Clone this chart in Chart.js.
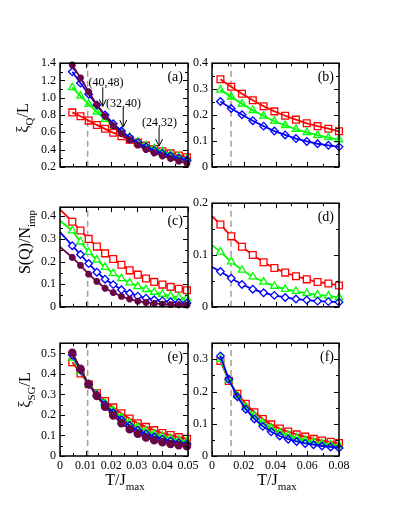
<!DOCTYPE html>
<html lang="en">
<head>
<meta charset="utf-8" />
<script src="https://cdn.jsdelivr.net/npm/chart.js@4.4.0/dist/chart.umd.min.js"></script>
<title>xi_Q, S(Q) and xi_SG versus T</title>
<style>
  body { margin: 0; background: #fff; }
  #fig { position: relative; width: 399px; height: 516px; font-family: "Liberation Serif", serif; color: #000; }
  .box { position: absolute; }
  .lab { position: absolute; font-size: 16px; white-space: nowrap; line-height: 1; }
  .lab sub { font-size: 11px; }
  .rot { transform: translate(-50%, -50%) rotate(-90deg); }
  .hor { transform: translate(-50%, -50%); }
</style>
</head>
<body>
<div id="fig">
  <div class="box" id="boxA"><canvas id="pa"></canvas></div>
  <div class="box" id="boxB"><canvas id="pb"></canvas></div>
  <div class="box" id="boxC"><canvas id="pc"></canvas></div>
  <div class="box" id="boxD"><canvas id="pd"></canvas></div>
  <div class="box" id="boxE"><canvas id="pe"></canvas></div>
  <div class="box" id="boxF"><canvas id="pf"></canvas></div>
  <div class="lab rot" style="left:25px; top:118px;">&xi;<sub>Q</sub>/L</div>
  <div class="lab rot" style="left:27px; top:242px;">S(Q)/N<sub>imp</sub></div>
  <div class="lab rot" style="left:27px; top:390px;">&xi;<sub>SG</sub>/L</div>
  <div class="lab hor" style="left:125px; top:482px;">T/J<sub>max</sub></div>
  <div class="lab hor" style="left:277px; top:482px;">T/J<sub>max</sub></div>
</div>
<script>
// temperatures (T/Jmax)
var tLeft = [0.0048, 0.0080, 0.0112, 0.0144, 0.0176, 0.0208, 0.0240, 0.0272, 0.0304, 0.0336, 0.0368, 0.0400, 0.0432, 0.0464, 0.0496];
var tLeftC = [0, 0.0048, 0.0080, 0.0112, 0.0144, 0.0176, 0.0208, 0.0240, 0.0272, 0.0304, 0.0336, 0.0368, 0.0400, 0.0432, 0.0464, 0.0496];
var tRight = [0.0053, 0.0121, 0.0189, 0.0257, 0.0325, 0.0393, 0.0461, 0.0529, 0.0597, 0.0665, 0.0733, 0.0800];
var tRightD = [0, 0.0053, 0.0121, 0.0189, 0.0257, 0.0325, 0.0393, 0.0461, 0.0529, 0.0597, 0.0665, 0.0733, 0.0800];
var tRightF = [0.0053, 0.0106, 0.0160, 0.0213, 0.0267, 0.0320, 0.0373, 0.0427, 0.0480, 0.0533, 0.0587, 0.0640, 0.0693, 0.0747, 0.0800];

// (a) xi_Q / L
var aRed    = [0.83, 0.785, 0.735, 0.685, 0.64, 0.595, 0.555, 0.515, 0.48, 0.445, 0.405, 0.38, 0.355, 0.33, 0.31];
var aGreen  = [1.12, 1.02, 0.925, 0.835, 0.75, 0.675, 0.605, 0.545, 0.49, 0.445, 0.41, 0.375, 0.345, 0.315, 0.29];
var aBlue   = [1.30, 1.17, 1.04, 0.915, 0.80, 0.70, 0.615, 0.54, 0.48, 0.43, 0.39, 0.355, 0.325, 0.30, 0.275];
var aMaroon = [1.38, 1.23, 1.07, 0.92, 0.785, 0.675, 0.585, 0.51, 0.45, 0.40, 0.36, 0.325, 0.295, 0.265, 0.24];
// (b)
var bRed   = [0.338, 0.309, 0.282, 0.257, 0.234, 0.214, 0.197, 0.182, 0.168, 0.157, 0.147, 0.137];
var bGreen = [0.297, 0.270, 0.243, 0.218, 0.196, 0.176, 0.160, 0.145, 0.133, 0.122, 0.113, 0.105];
var bBlue  = [0.252, 0.225, 0.201, 0.178, 0.157, 0.138, 0.123, 0.109, 0.098, 0.089, 0.083, 0.077];
// (c) S(Q)/Nimp, first value is the curve at T=0
var cRed    = [0.43, 0.376, 0.337, 0.300, 0.266, 0.236, 0.211, 0.186, 0.161, 0.142, 0.125, 0.110, 0.098, 0.088, 0.080, 0.073];
var cGreen  = [0.38, 0.336, 0.287, 0.241, 0.207, 0.175, 0.148, 0.125, 0.106, 0.090, 0.077, 0.065, 0.056, 0.048, 0.042, 0.037];
var cBlue   = [0.33, 0.270, 0.231, 0.191, 0.153, 0.122, 0.098, 0.075, 0.060, 0.047, 0.038, 0.031, 0.026, 0.022, 0.019, 0.017];
var cMaroon = [0.265, 0.218, 0.183, 0.144, 0.112, 0.082, 0.063, 0.046, 0.034, 0.025, 0.019, 0.015, 0.012, 0.010, 0.009, 0.008];
// (d)
var dRed   = [0.175, 0.159, 0.136, 0.116, 0.100, 0.086, 0.075, 0.066, 0.059, 0.053, 0.048, 0.045, 0.041];
var dGreen = [0.119, 0.106, 0.087, 0.071, 0.058, 0.048, 0.040, 0.034, 0.030, 0.026, 0.023, 0.021, 0.018];
var dBlue  = [0.077, 0.068, 0.055, 0.043, 0.034, 0.027, 0.022, 0.018, 0.015, 0.013, 0.011, 0.010, 0.009];
// (e) xi_SG / L
var eRed    = [0.457, 0.402, 0.350, 0.306, 0.268, 0.237, 0.208, 0.183, 0.160, 0.142, 0.126, 0.112, 0.102, 0.092, 0.084];
var eGreen  = [0.478, 0.414, 0.350, 0.302, 0.258, 0.222, 0.190, 0.163, 0.141, 0.123, 0.108, 0.096, 0.086, 0.078, 0.071];
var eBlue   = [0.492, 0.420, 0.350, 0.297, 0.250, 0.211, 0.177, 0.149, 0.126, 0.108, 0.094, 0.082, 0.073, 0.065, 0.059];
var eMaroon = [0.503, 0.426, 0.350, 0.292, 0.240, 0.198, 0.160, 0.131, 0.108, 0.090, 0.077, 0.067, 0.059, 0.053, 0.048];
// (f)
var fRed   = [0.295, 0.233, 0.193, 0.162, 0.136, 0.115, 0.098, 0.085, 0.076, 0.067, 0.060, 0.053, 0.048, 0.044, 0.040];
var fGreen = [0.300, 0.236, 0.188, 0.152, 0.124, 0.103, 0.087, 0.074, 0.064, 0.056, 0.049, 0.044, 0.039, 0.035, 0.032];
var fBlue  = [0.310, 0.238, 0.184, 0.145, 0.115, 0.092, 0.075, 0.062, 0.052, 0.045, 0.039, 0.035, 0.031, 0.028, 0.025];

var tcLeft = 0.0108, tcRight = 0.012;

var RED = "#ff0000", GREEN = "#00ff00", BLUE = "#0000ff", MAROON = "#670748", DASH = "#b89494";
var FONT = "Liberation Serif";

// frame, inward ticks on all four sides, panel tag and arrows
var frameTicks = {
    id: "frameTicks",
    afterDraw: function (chart, args, o) {
        var ctx = chart.ctx, a = chart.chartArea, xs = chart.scales.x, ys = chart.scales.y;
        ctx.save();
        ctx.strokeStyle = "#000";
        ctx.lineWidth = 1;
        ctx.beginPath();
        var isMajor = function (v, m) { return Math.abs(v / m - Math.round(v / m)) < 1e-6; };
        for (var v = xs.min; v <= xs.max + 1e-9; v += o.xMinor) {
            var px = Math.round(xs.getPixelForValue(v)) + 0.5;
            var len = isMajor(v, o.xMajor) ? 5 : 3;
            ctx.moveTo(px, a.bottom); ctx.lineTo(px, a.bottom - len);
            ctx.moveTo(px, a.top); ctx.lineTo(px, a.top + len);
        }
        for (var w = ys.min; w <= ys.max + 1e-9; w += o.yMinor) {
            var py = Math.round(ys.getPixelForValue(w)) + 0.5;
            var l2 = isMajor(w, o.yMajor) ? 5 : 3;
            ctx.moveTo(a.left, py); ctx.lineTo(a.left + l2, py);
            ctx.moveTo(a.right, py); ctx.lineTo(a.right - l2, py);
        }
        ctx.stroke();
        ctx.lineWidth = 1.5;
        ctx.strokeRect(a.left, a.top, a.right - a.left, a.bottom - a.top);

        ctx.fillStyle = "#000";
        ctx.font = "14px " + FONT;
        ctx.textAlign = "right";
        ctx.textBaseline = "middle";
        ctx.fillText(o.tag, a.right - 5, a.top + 14);

        (o.notes || []).forEach(function (n) {
            ctx.font = "12px " + FONT;
            ctx.textAlign = "center";
            ctx.fillText(n.text, xs.getPixelForValue(n.tx), ys.getPixelForValue(n.ty));
            var ax = xs.getPixelForValue(n.ax), y0 = ys.getPixelForValue(n.y0), y1 = ys.getPixelForValue(n.y1);
            ctx.lineWidth = 1;
            ctx.beginPath();
            ctx.moveTo(ax, y0); ctx.lineTo(ax, y1);
            ctx.moveTo(ax - 3.5, y1 - 7); ctx.lineTo(ax, y1); ctx.lineTo(ax + 3.5, y1 - 7);
            ctx.stroke();
        });
        ctx.restore();
    }
};

function series(xs, ys, color, marker, radius, fill, skipFirst) {
    return {
        data: xs.map(function (x, i) { return { x: x, y: ys[i] }; }),
        borderColor: color,
        borderWidth: 1.8,
        pointStyle: marker,
        pointRadius: skipFirst ? function (c) { return c.dataIndex === 0 ? 0 : radius; } : radius,
        pointBorderColor: color,
        pointBackgroundColor: fill,
        pointBorderWidth: marker === "star" ? 2.4 : 1.3,
        tension: 0,
        clip: false
    };
}

function dashLine(tc, yMin, yMax) {
    return {
        data: [{ x: tc, y: yMin }, { x: tc, y: yMax }],
        borderColor: DASH,
        borderWidth: 1.5,
        borderDash: [6, 4],
        pointRadius: 0
    };
}

function fmt(d) {
    return function (v) { return Math.abs(v) < 1e-9 ? "0" : v.toFixed(d); };
}

function panel(id, box, pos, opt) {
    var padTop = 8, padRight = 16, yW = 50, xH = opt.xLabels ? 24 : 2;
    var el = document.getElementById(box);
    el.style.left = (pos.left - yW) + "px";
    el.style.top = (pos.top - padTop) + "px";
    el.style.width = (yW + pos.width + padRight) + "px";
    el.style.height = (padTop + pos.height + xH) + "px";

    new Chart(document.getElementById(id), {
        type: "line",
        data: { datasets: opt.datasets },
        options: {
            responsive: true,
            maintainAspectRatio: false,
            devicePixelRatio: 1,
            animation: false,
            layout: { padding: { top: padTop, right: padRight, left: 0, bottom: 0 } },
            plugins: {
                legend: { display: false },
                tooltip: { enabled: false },
                frameTicks: { tag: opt.tag, notes: opt.notes, xMajor: opt.xMajor, xMinor: opt.xMajor / 2, yMajor: opt.yMajor, yMinor: opt.yMajor / 2 }
            },
            scales: {
                x: {
                    type: "linear",
                    min: 0, max: opt.xMax,
                    grid: { display: false, drawTicks: false },
                    border: { display: false },
                    ticks: {
                        display: opt.xLabels, stepSize: opt.xMajor, includeBounds: false, autoSkip: false, maxRotation: 0,
                        padding: 3, color: "#000", font: { family: FONT, size: 12 }, callback: fmt(2)
                    },
                    afterFit: function (s) { s.height = xH; s.paddingLeft = 0; s.paddingRight = 0; }
                },
                y: {
                    min: opt.yMin, max: opt.yMax,
                    grid: { display: false, drawTicks: false },
                    border: { display: false },
                    ticks: {
                        stepSize: opt.yMajor, includeBounds: false, autoSkip: false, padding: 4, color: "#000",
                        font: { family: FONT, size: 12 }, callback: fmt(1)
                    },
                    afterFit: function (s) { s.width = yW; }
                }
            }
        },
        plugins: [frameTicks]
    });
}

var WHITE = "#ffffff", NONE = "rgba(0,0,0,0)";

panel("pa", "boxA", { left: 60, top: 60, width: 128, height: 116 }, {
    tag: "(a)", xMax: 0.05, xMajor: 0.01, yMin: 0.2, yMax: 1.4, yMajor: 0.2, xLabels: false,
    notes: [
        { text: "(40,48)", tx: 0.0180, ty: 1.17, ax: 0.0167, y0: 1.12, y1: 0.90 },
        { text: "(32,40)", tx: 0.0248, ty: 0.935, ax: 0.0247, y0: 0.88, y1: 0.66 },
        { text: "(24,32)", tx: 0.0389, ty: 0.71, ax: 0.0387, y0: 0.65, y1: 0.44 }
    ],
    datasets: [
        series(tLeft, aMaroon, MAROON, "star", 3.4, MAROON),
        series(tLeft, aBlue, BLUE, "rectRot", 3.8, NONE),
        series(tLeft, aGreen, GREEN, "triangle", 4.3, NONE),
        series(tLeft, aRed, RED, "rect", 4.8, NONE),
        dashLine(tcLeft, 0.2, 1.4)
    ]
});

panel("pb", "boxB", { left: 212, top: 60, width: 127, height: 116 }, {
    tag: "(b)", xMax: 0.08, xMajor: 0.02, yMin: 0, yMax: 0.4, yMajor: 0.1, xLabels: false,
    datasets: [
        series(tRight, bBlue, BLUE, "rectRot", 3.8, NONE),
        series(tRight, bGreen, GREEN, "triangle", 4.3, NONE),
        series(tRight, bRed, RED, "rect", 4.8, NONE),
        dashLine(tcRight, 0, 0.4)
    ]
});

panel("pc", "boxC", { left: 60, top: 204, width: 128, height: 112 }, {
    tag: "(c)", xMax: 0.05, xMajor: 0.01, yMin: 0, yMax: 0.44, yMajor: 0.1, xLabels: false,
    datasets: [
        series(tLeftC, cMaroon, MAROON, "star", 3.4, MAROON, true),
        series(tLeftC, cBlue, BLUE, "rectRot", 3.8, WHITE, true),
        series(tLeftC, cGreen, GREEN, "triangle", 4.3, WHITE, true),
        series(tLeftC, cRed, RED, "rect", 4.8, WHITE, true),
        dashLine(tcLeft, 0, 0.44)
    ]
});

panel("pd", "boxD", { left: 212, top: 200, width: 127, height: 116 }, {
    tag: "(d)", xMax: 0.08, xMajor: 0.02, yMin: 0, yMax: 0.2, yMajor: 0.1, xLabels: false,
    datasets: [
        series(tRightD, dBlue, BLUE, "rectRot", 3.8, WHITE, true),
        series(tRightD, dGreen, GREEN, "triangle", 4.3, WHITE, true),
        series(tRightD, dRed, RED, "rect", 4.8, WHITE, true),
        dashLine(tcRight, 0, 0.2)
    ]
});

panel("pe", "boxE", { left: 60, top: 340, width: 128, height: 116 }, {
    tag: "(e)", xMax: 0.05, xMajor: 0.01, yMin: 0, yMax: 0.55, yMajor: 0.1, xLabels: true,
    datasets: [
        series(tLeft, eMaroon, MAROON, "circle", 3.6, MAROON),
        series(tLeft, eBlue, BLUE, "rectRot", 3.8, NONE),
        series(tLeft, eGreen, GREEN, "triangle", 4.3, NONE),
        series(tLeft, eRed, RED, "rect", 4.8, NONE),
        dashLine(tcLeft, 0, 0.55)
    ]
});

panel("pf", "boxF", { left: 212, top: 340, width: 127, height: 116 }, {
    tag: "(f)", xMax: 0.08, xMajor: 0.02, yMin: 0, yMax: 0.35, yMajor: 0.1, xLabels: true,
    datasets: [
        series(tRightF, fBlue, BLUE, "rectRot", 3.8, NONE),
        series(tRightF, fGreen, GREEN, "triangle", 4.3, NONE),
        series(tRightF, fRed, RED, "rect", 4.8, NONE),
        dashLine(tcRight, 0, 0.35)
    ]
});
</script>
</body>
</html>
